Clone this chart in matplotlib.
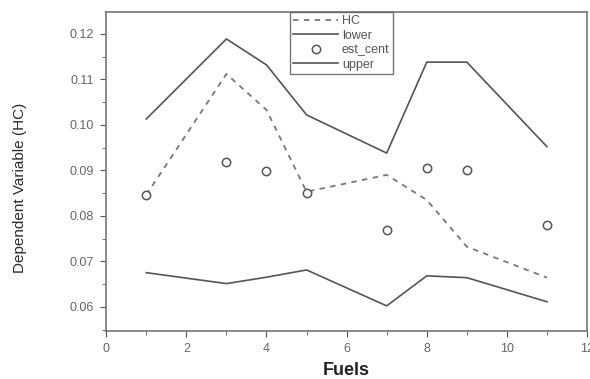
import matplotlib.pyplot as plt
from matplotlib.ticker import MultipleLocator

fuels    = [1, 3, 4, 5, 7, 8, 9, 11]
hc       = [0.0846, 0.1112, 0.1033, 0.0853, 0.0890, 0.0835, 0.0732, 0.0664]
lower    = [0.0675, 0.0651, 0.0665, 0.0681, 0.0602, 0.0668, 0.0664, 0.0611]
est_cent = [0.0846, 0.0919, 0.0899, 0.0851, 0.0769, 0.0905, 0.0901, 0.0780]
upper    = [0.1013, 0.1189, 0.1132, 0.1022, 0.0938, 0.1138, 0.1138, 0.0952]

plt.rcParams['font.family'] = ['Liberation Sans', 'DejaVu Sans']
col = "#555555"

fig = plt.figure(figsize=(5.9, 3.79), dpi=100)
ax = fig.add_axes([0.18, 0.127, 0.815, 0.841])

ax.plot(fuels, hc, ls=(0, (3, 3)), c="#777777", lw=1.3, label="HC")
ax.plot(fuels, lower, c=col, lw=1.2, label="lower")
ax.plot(fuels, est_cent, ls="none", marker="o", ms=6, mfc="white", mec=col, mew=1.1, label="est_cent")
ax.plot(fuels, upper, c=col, lw=1.2, label="upper")

ax.set_xlim(0, 12)
ax.set_ylim(0.0547, 0.1248)
ax.xaxis.set_major_locator(MultipleLocator(2))
ax.xaxis.set_minor_locator(MultipleLocator(1))
ax.yaxis.set_major_locator(MultipleLocator(0.01))
ax.yaxis.set_minor_locator(MultipleLocator(0.005))
ax.yaxis.set_major_formatter(plt.FormatStrFormatter("%.2f"))
ax.tick_params(which="both", direction="out", colors=col, labelcolor="#666666", labelsize=9)
ax.tick_params(which="major", length=4, pad=5)
ax.tick_params(which="minor", length=3)
for s in ax.spines.values():
    s.set_color("#777777")
    s.set_linewidth(1.2)

ax.set_xlabel("Fuels", fontsize=13, fontweight="bold", color="#222222", labelpad=5)
ax.set_ylabel("Dependent Variable (HC)", fontsize=11, color="#2a2a2a")
ax.yaxis.set_label_coords(-0.165, 0.45)

leg = ax.legend(loc="upper left", bbox_to_anchor=(0.382, 1.0), fontsize=9, frameon=True,
                fancybox=False, edgecolor="#555555", borderpad=0.25, labelspacing=0.2,
                handlelength=3.6, handletextpad=0.3, borderaxespad=0)
for t in leg.get_texts():
    t.set_color("#555555")

fig.savefig("out.png", dpi=100)
